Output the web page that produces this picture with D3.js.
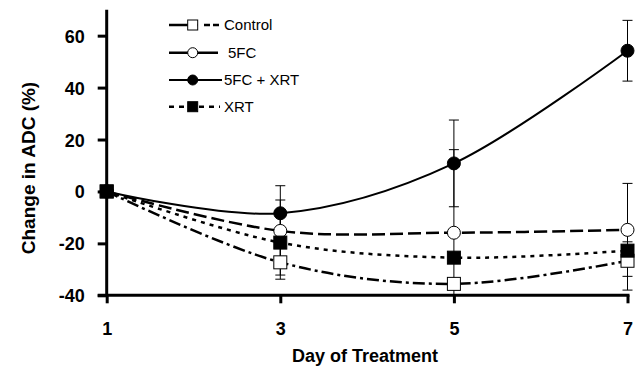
<!DOCTYPE html>
<html>
<head>
<meta charset="utf-8">
<script src="https://cdn.jsdelivr.net/npm/d3@7"></script>
<style>
  body { margin: 0; background: #fff; }
  text { font-family: Arial, "Liberation Sans", sans-serif; }
</style>
</head>
<body>
<div id="chart"></div>
<script>
const days = [1, 3, 5, 7];
const yTicks = [-40, -20, 0, 20, 40, 60];

const controlVals = [0, -27.3, -35.6, -26.7];
const controlErr  = [0, 6.5, 0, 11.3];
const fcVals      = [0, -15.2, -15.9, -14.8];
const fcErr       = [0, 11.9, 32, 17.9];
const fcXrtVals   = [0, -8.4, 10.8, 54.2];
const fcXrtErr    = [0, 10.6, 16.7, 11.7];
const xrtVals     = [0, -19.7, -25.5, -22.8];
const xrtErr      = [0, 12.5, 0, 3.4];

const series = [
  { name: "Control",   vals: controlVals, err: controlErr, marker: "square", fill: "#fff", dash: "12,4,3,4", lw: 2.5 },
  { name: "5FC",       vals: fcVals,      err: fcErr,      marker: "circle", fill: "#fff", dash: "13,5",     lw: 2.5 },
  { name: "5FC + XRT", vals: fcXrtVals,   err: fcXrtErr,   marker: "circle", fill: "#000", dash: null,       lw: 2 },
  { name: "XRT",       vals: xrtVals,     err: xrtErr,     marker: "square", fill: "#000", dash: "4,5",      lw: 2.5 }
];
// how each series line looks in the legend swatch
const legendDash = ["29,6,6,3,6", null, null, "5,5"];
const legendEnd = [220, 218, 222, 220];

const width = 636, height = 379;
const svg = d3.select("#chart").append("svg")
  .attr("width", width)
  .attr("height", height);

const x = d3.scaleLinear().domain([1, 7]).range([106.7, 627.5]);
const y = d3.scaleLinear().domain([-40, 70]).range([295.3, 9.7]);

// clip for plot area
svg.append("clipPath").attr("id", "plot")
  .append("rect").attr("x", 0).attr("y", y(70)).attr("width", width).attr("height", y(-40) - y(70));

const line = d3.line()
  .x((d, i) => x(days[i]))
  .y(d => y(d))
  .curve(d3.curveCatmullRom.alpha(0));

// lines
series.forEach(s => {
  svg.append("path")
    .attr("d", line(s.vals))
    .attr("fill", "none")
    .attr("stroke", "#000")
    .attr("stroke-width", s.lw)
    .attr("stroke-dasharray", s.dash);
});

// error bars
const eg = svg.append("g").attr("clip-path", "url(#plot)");
series.forEach(s => {
  days.forEach((d, i) => {
    if (!s.err[i]) return;
    const cx = x(d), lo = y(s.vals[i] - s.err[i]), hi = y(s.vals[i] + s.err[i]);
    eg.append("line").attr("x1", cx).attr("x2", cx).attr("y1", lo).attr("y2", hi)
      .attr("stroke", "#000").attr("stroke-width", 1);
    [lo, hi].forEach(yy => {
      eg.append("line").attr("x1", cx - 5).attr("x2", cx + 5).attr("y1", yy).attr("y2", yy)
        .attr("stroke", "#000").attr("stroke-width", 1);
    });
  });
});

function drawMarker(g, s, cx, cy, size) {
  const h = size / 2;
  if (s.marker === "square") {
    g.append("rect").attr("x", cx - h).attr("y", cy - h).attr("width", size).attr("height", size)
      .attr("fill", s.fill).attr("stroke", "#000").attr("stroke-width", 1);
  } else {
    g.append("circle").attr("cx", cx).attr("cy", cy).attr("r", h)
      .attr("fill", s.fill).attr("stroke", "#000").attr("stroke-width", 1);
  }
}

// markers
const mg = svg.append("g");
series.forEach(s => {
  days.forEach((d, i) => drawMarker(mg, s, x(d), y(s.vals[i]), 13));
});

// axes
const fmt = d => String(d);
const yAxis = svg.append("g")
  .attr("transform", `translate(${x(1)},0)`)
  .call(d3.axisLeft(y).tickValues(yTicks).tickFormat(fmt).tickSize(9).tickPadding(13));
const xAxis = svg.append("g")
  .attr("transform", `translate(0,${y(-40)})`)
  .call(d3.axisBottom(x).tickValues(days).tickFormat(fmt).tickSize(8).tickPadding(19));
[yAxis, xAxis].forEach(a => {
  a.select(".domain").attr("stroke-width", 3);
  a.selectAll(".tick line").attr("stroke-width", 3);
  a.selectAll(".tick text").attr("font-size", 18).attr("font-weight", "bold").attr("fill", "#000");
});
yAxis.select(".domain").attr("d", `M-9,${y(-40)}H0V${y(70)}`);
xAxis.select(".domain").attr("d", `M${x(1)},0H${x(7) + 2}`);
xAxis.selectAll(".tick line").attr("y1", 0);
yAxis.selectAll(".tick text").attr("dy", "0.36em");

// axis titles
svg.append("text")
  .attr("x", 365).attr("y", 362)
  .attr("text-anchor", "middle")
  .attr("font-size", 18).attr("font-weight", "bold")
  .text("Day of Treatment");
svg.append("text")
  .attr("transform", "translate(35,168) rotate(-90)")
  .attr("text-anchor", "middle")
  .attr("font-size", 19).attr("font-weight", "bold")
  .text("Change in ADC (%)");

// legend
const lg = svg.append("g");
const legendY = [25, 52.7, 80, 106.7];
series.forEach((s, i) => {
  const ly = legendY[i];
  lg.append("line").attr("x1", 169).attr("x2", legendEnd[i]).attr("y1", ly).attr("y2", ly)
    .attr("stroke", "#000").attr("stroke-width", s.lw)
    .attr("stroke-dasharray", legendDash[i]);
  drawMarker(lg, s, 192.7, ly, 10);
  lg.append("text")
    .attr("x", s.name === "5FC" ? 228 : 224).attr("y", ly).attr("dy", "0.36em")
    .attr("font-size", 15)
    .text(s.name);
});
</script>
</body>
</html>
